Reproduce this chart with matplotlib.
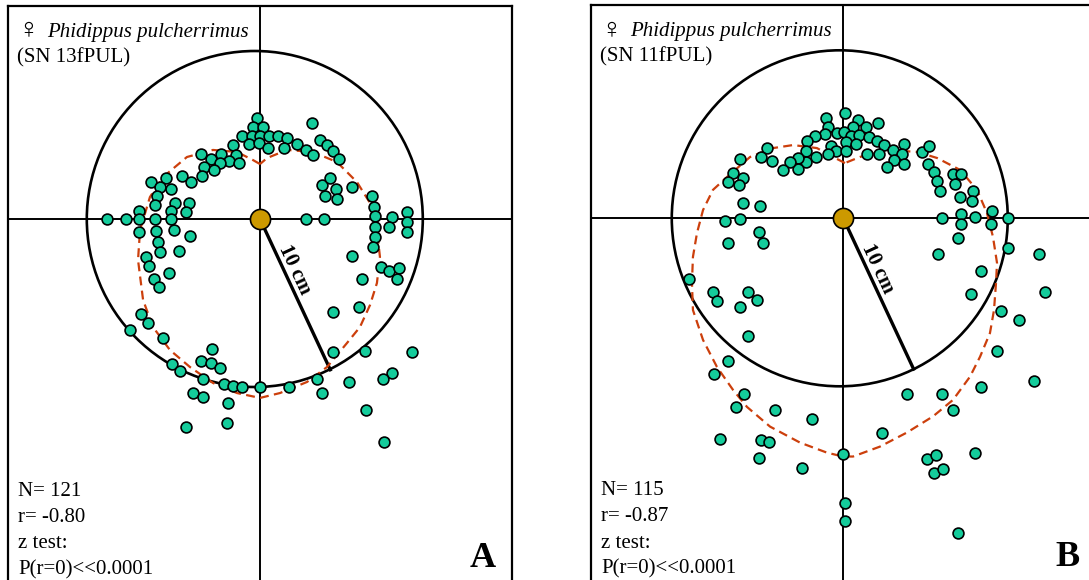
import numpy as np
import matplotlib.pyplot as plt
from matplotlib.patches import Circle

# positions of the spiders (cm, release point at origin)
# female SN 13fPUL
A_X = [-0.20, -0.40, 0.20, -1.09, -0.50, 0.00, 0.56, 1.09, 1.59, -0.63,
       -0.06, 0.46, 1.43, -1.63, 2.18, 2.72, 3.17, 3.12, 3.57, 3.97,
       4.33, 4.70, -3.51, -2.92, -2.32, -1.43, -1.85, -2.38, -1.25, -3.33,
       -2.72, -3.43, -4.62, -4.13, -5.62, -6.51, -5.95, -5.32, -6.11, -6.23,
       -5.04, -4.25, -5.30, -4.38, -7.18, -9.13, -8.00, -7.20, -6.25, -5.32,
       -7.18, -6.17, -5.10, -4.15, -6.09, -5.93, -4.80, -6.81, -6.59, -5.40,
       -6.31, -6.03, 3.67, 4.17, 4.50, 3.89, 4.60, 5.46, 2.74, 3.83,
       6.67, 6.77, 6.83, 6.85, 6.85, 6.75, 7.84, 7.70, 8.77, 8.77,
       8.73, 5.50, 7.18, 7.70, 8.29, 8.17, 6.09, -7.74, -7.10, -6.65,
       -5.75, -2.84, -5.22, -4.76, -3.53, -2.92, -2.38, -3.39, -2.14, -1.59,
       -1.09, 0.00, 1.71, 3.41, 3.67, 5.30, 4.37, 5.91, 4.37, 6.25,
       9.03, 7.84, 7.30, 6.31, 7.40, -4.01, -3.37, -1.88, -1.98, -4.38]
A_Y = [6.00, 5.46, 5.50, 4.96, 4.94, 4.94, 4.96, 4.94, 4.80, 4.44,
       4.50, 4.25, 4.25, 4.40, 4.44, 4.11, 3.81, 5.69, 4.70, 4.40,
       4.05, 3.57, 3.85, 3.57, 3.87, 3.81, 3.45, 3.35, 3.31, 3.12,
       2.92, 2.58, 2.56, 2.18, 2.46, 2.22, 1.92, 1.81, 1.37, 0.81,
       0.97, 0.97, 0.48, 0.44, 0.50, 0.00, 0.00, 0.00, 0.00, 0.00,
       -0.75, -0.71, -0.65, -0.99, -1.39, -1.98, -1.88, -2.24, -2.80, -3.23,
       -3.57, -4.05, 2.02, 2.42, 1.77, 1.37, 1.17, 1.92, 0.00, 0.00,
       1.37, 0.73, 0.18, -0.46, -1.09, -1.65, 0.14, -0.50, 0.44, -0.16,
       -0.79, -2.18, -2.84, -3.10, -2.94, -3.57, -3.59, -6.61, -5.65, -6.21,
       -7.10, -7.74, -8.63, -9.03, -8.43, -8.59, -8.85, -9.54, -9.82, -9.94,
       -9.98, -10.02, -10.02, -9.54, -10.38, -9.70, -5.52, -5.26, -7.90, -7.84,
       -7.90, -9.15, -9.52, -11.37, -13.25, -10.34, -10.62, -10.97, -12.12, -12.36]

# female SN 11fPUL
B_X = [0.10, -1.05, -0.93, 0.89, 2.08, 0.56, 1.33, -0.40, 0.04, -1.09,
       0.44, 0.95, 1.53, -1.69, -2.14, 0.16, 0.75, 1.98, 2.42, -0.75,
       -0.46, 0.16, -0.89, -2.22, -1.65, -2.24, -2.72, -2.72, -3.17, -3.57,
       -4.52, -4.90, -4.25, -6.17, -6.55, -5.95, -6.88, -6.21, 1.43, 2.14,
       2.94, 3.61, 3.51, 3.04, 2.58, 3.63, 4.66, 5.12, 5.06, 5.40,
       5.58, 5.77, 6.51, 6.98, 6.63, 6.92, 7.70, 7.68, 8.85, 6.98,
       5.85, 7.86, 7.00, 8.77, 9.78, 6.85, 9.78, 5.65, 11.65, 8.21,
       7.58, 12.00, 9.37, 10.46, -5.99, -4.98, -7.02, -6.13, -5.02, -4.78,
       -6.88, -9.19, -7.78, -7.50, -5.65, -5.16, -6.13, -5.69, -6.88, -7.68,
       -5.93, -6.37, -4.05, -1.88, -7.32, -4.92, -4.42, -5.02, -2.44, 0.00,
       0.08, 0.08, 6.85, 9.13, 11.37, 8.21, 3.81, 5.87, 6.53, 2.32,
       7.84, 4.96, 5.52, 5.40, 5.91]
B_Y = [6.25, 5.95, 5.46, 5.85, 5.65, 5.42, 5.46, 5.06, 5.16, 5.02,
       4.90, 4.96, 4.86, 4.92, 4.62, 4.56, 4.40, 4.62, 4.37, 4.33,
       4.01, 4.01, 3.81, 4.01, 3.67, 3.37, 3.57, 2.94, 3.37, 2.88,
       4.21, 3.63, 3.41, 3.51, 2.72, 2.42, 2.16, 1.96, 3.81, 3.81,
       4.07, 4.40, 3.83, 3.47, 3.08, 3.21, 3.93, 4.31, 3.23, 2.76,
       2.24, 1.65, 2.64, 2.62, 2.04, 1.25, 1.63, 1.05, 0.42, 0.26,
       0.00, 0.06, -0.34, -0.32, 0.04, -1.17, -1.79, -2.12, -2.12, -3.13,
       -4.48, -4.40, -5.50, -6.05, 0.89, 0.73, -0.14, -0.06, -0.81, -1.49,
       -1.49, -3.61, -4.40, -4.92, -4.40, -4.86, -5.26, -7.00, -8.49, -9.27,
       -10.46, -11.25, -11.43, -11.94, -13.13, -13.19, -13.29, -14.29, -14.86, -14.05,
       -16.96, -18.02, -18.75, -7.88, -9.68, -10.02, -10.44, -10.46, -11.41, -12.76,
       -13.99, -14.35, -14.09, -15.18, -14.92]

# fitted outline (dashed)
A_FIT_X = [0.00, -0.42, -1.37, -2.80, -4.35, -5.77, -6.55, -7.14, -7.26, -6.96,
           -6.37, -5.36, -4.17, -2.80, -1.37, 0.00, 1.19, 2.80, 3.99, 5.18,
           5.95, 6.55, 6.96, 7.14, 6.96, 6.55, 5.77, 4.58, 3.15, 1.61, 0.42]
A_FIT_Y = [3.27, 3.51, 3.99, 4.11, 3.69, 2.50, 1.31, -0.65, -2.44, -4.82,
           -6.43, -7.80, -8.81, -9.76, -10.36, -10.65, -10.36, -9.70, -8.81, -7.38,
           -6.43, -5.12, -3.81, -2.26, -0.65, 0.95, 2.20, 3.39, 3.99, 4.11, 3.63]
B_FIT_X = [0.10, -0.61, -1.57, -2.99, -4.18, -5.55, -6.92, -7.76, -8.35, -8.71,
           -8.95, -9.01, -8.95, -8.35, -7.52, -6.56, -5.73, -4.36, -2.58, -0.97,
           -0.02, 0.58, 2.18, 3.79, 5.34, 6.53, 7.54, 8.14, 8.73, 8.97,
           9.09, 9.15, 8.91, 8.55, 7.96, 6.95, 5.58, 4.39, 2.60, 0.99]
B_FIT_Y = [3.29, 3.65, 4.18, 4.36, 4.18, 3.65, 2.46, 1.69, 0.49, -0.88,
           -2.30, -3.85, -5.46, -7.24, -8.85, -10.22, -11.23, -12.40, -13.35, -13.95,
           -14.18, -14.18, -13.59, -12.75, -11.79, -10.81, -9.43, -8.24, -6.83, -5.46,
           -3.85, -2.66, -1.11, 0.32, 1.69, 2.88, 3.59, 3.95, 4.07, 3.65]

SPECIES = "Phidippus pulcherrimus"
SPECIMENS = ["(SN 13fPUL)", "(SN 11fPUL)"]
STATS = [["N= 121", "r= -0.80", "z test:", "P(r=0)<<0.0001"],
         ["N= 115", "r= -0.87", "z test:", "P(r=0)<<0.0001"]]
LETTERS = ["A", "B"]

RADIUS_CM = 10
RADIUS_ANGLE = -65  # degrees
CIRCLE_SHIFT = [-0.31, -0.21]

DOT_COLOR = "#14cc9b"
FIT_COLOR = "#cc3f0c"
CENTER_COLOR = "#cc9900"
SERIF = ["Liberation Serif", "DejaVu Sans"]

DPI = 100
W, H = 1089, 580
SCALE = 16.8            # pixels per cm
CENTERS = [(260.0, 219.0), (843.3, 218.3)]
XLIM = (-15.0, 15.0)
YLIM = (-23.0, 12.7)


def px(v):
    # pixels -> points
    return v * 72.0 / DPI


def draw_panel(ax, xs, ys, fit_x, fit_y, shift, specimen, stats, letter):
    ax.set_xlim(*XLIM)
    ax.set_ylim(*YLIM)
    ax.set_xticks([])
    ax.set_yticks([])
    for s in ax.spines.values():
        s.set_linewidth(1.6)
        s.set_color("black")

    ax.axhline(0, color="black", lw=1.4, zorder=1)
    ax.axvline(0, color="black", lw=1.4, zorder=1)
    ax.add_patch(Circle((shift, 0), RADIUS_CM, fill=False, ec="black",
                        lw=1.9, zorder=2))

    a = np.radians(RADIUS_ANGLE)
    ax.plot([0, RADIUS_CM * np.cos(a)], [0, RADIUS_CM * np.sin(a)],
            color="black", lw=2.4, solid_capstyle="butt", zorder=3)
    # label sits beside the radius, rotated with it
    d, off = 3.6, 0.6
    lx = d * np.cos(a) + off * np.cos(a + np.pi / 2)
    ly = d * np.sin(a) + off * np.sin(a + np.pi / 2)
    ax.text(lx, ly, "10 cm", rotation=RADIUS_ANGLE, rotation_mode="anchor",
            ha="center", va="center", fontsize=15, fontweight="bold",
            family=SERIF, zorder=6)

    ax.plot(fit_x + fit_x[:1], fit_y + fit_y[:1], color=FIT_COLOR, lw=1.6,
            dashes=(4.0, 2.4), zorder=4)
    ax.plot(xs, ys, "o", ms=7.8, mfc=DOT_COLOR, mec="black", mew=1.2,
            zorder=5, clip_on=True)
    ax.plot([0], [0], "o", ms=14.5, mfc=CENTER_COLOR, mec="black", mew=1.2,
            zorder=7)

    # header
    ax.annotate("\u2640", xy=(0, 1), xycoords="axes fraction",
                xytext=(px(9), px(-32)), textcoords="offset points",
                ha="left", va="baseline", fontsize=21, family=SERIF)
    ax.annotate(SPECIES, xy=(0, 1), xycoords="axes fraction",
                xytext=(px(39), px(-31)), textcoords="offset points",
                ha="left", va="baseline", fontsize=15, style="italic",
                family=SERIF)
    ax.annotate(specimen, xy=(0, 1), xycoords="axes fraction",
                xytext=(px(9), px(-57)), textcoords="offset points",
                ha="left", va="baseline", fontsize=15, family=SERIF)

    # statistics block, bottom left
    for i, line in enumerate(stats):
        ax.annotate(line, xy=(0, 1), xycoords="axes fraction",
                    xytext=(px(10), px(-490 - 26.3 * i)),
                    textcoords="offset points", ha="left", va="baseline",
                    fontsize=15, family=SERIF)

    ax.annotate(letter, xy=(0, 1), xycoords="axes fraction",
                xytext=(px(488), px(-561)), textcoords="offset points",
                ha="right", va="baseline", fontsize=26, fontweight="bold",
                family=SERIF)


fig = plt.figure(figsize=(W / DPI, H / DPI), dpi=DPI)

panels = [(A_X, A_Y, A_FIT_X, A_FIT_Y), (B_X, B_Y, B_FIT_X, B_FIT_Y)]
for k, (xs, ys, fx, fy) in enumerate(panels):
    cx, cy = CENTERS[k]
    left = cx + XLIM[0] * SCALE
    right = cx + XLIM[1] * SCALE
    top = cy - YLIM[1] * SCALE
    bottom = cy - YLIM[0] * SCALE
    ax = fig.add_axes([left / W, (H - bottom) / H,
                       (right - left) / W, (bottom - top) / H])
    draw_panel(ax, xs, ys, fx, fy, CIRCLE_SHIFT[k], SPECIMENS[k],
               STATS[k], LETTERS[k])

fig.savefig("out.png", dpi=DPI)
